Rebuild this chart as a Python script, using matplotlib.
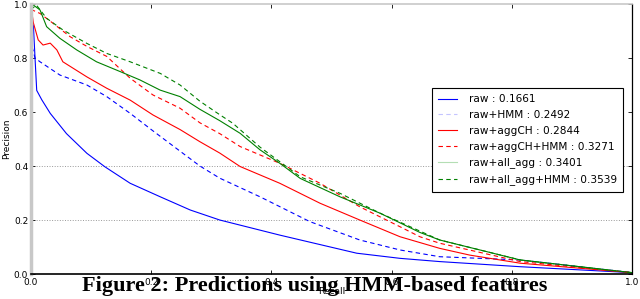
import matplotlib
matplotlib.use('Agg')
import matplotlib.pyplot as plt

# precision / recall points
raw_r = [0, 0.004, 0.0067, 0.0095, 0.018, 0.032, 0.059, 0.093, 0.123, 0.165, 0.215, 0.265, 0.314, 0.414, 0.542, 0.614, 0.68, 0.814, 1.0]
raw_p = [0.95, 0.92, 0.80, 0.68, 0.645, 0.595, 0.52, 0.447, 0.397, 0.336, 0.286, 0.237, 0.20, 0.144, 0.077, 0.058, 0.046, 0.027, 0.005]

hmm_r = [0, 0.002, 0.0067, 0.015, 0.048, 0.093, 0.126, 0.165, 0.203, 0.248, 0.281, 0.314, 0.381, 0.464, 0.547, 0.614, 0.68, 0.814, 1.0]
hmm_p = [0.58, 0.84, 0.80, 0.786, 0.737, 0.70, 0.657, 0.595, 0.53, 0.455, 0.40, 0.355, 0.286, 0.194, 0.126, 0.089, 0.064, 0.052, 0.005]

aggch_r = [0, 0.004, 0.012, 0.02, 0.032, 0.043, 0.053, 0.093, 0.126, 0.165, 0.203, 0.248, 0.281, 0.314, 0.348, 0.414, 0.481, 0.547, 0.614, 0.68, 0.73, 0.814, 1.0]
aggch_p = [0.99, 0.93, 0.867, 0.848, 0.855, 0.83, 0.786, 0.73, 0.688, 0.644, 0.589, 0.535, 0.49, 0.448, 0.398, 0.336, 0.262, 0.20, 0.138, 0.095, 0.07, 0.04, 0.005]

aggch_hmm_r = [0, 0.015, 0.037, 0.065, 0.093, 0.126, 0.165, 0.203, 0.248, 0.281, 0.314, 0.348, 0.414, 0.481, 0.547, 0.614, 0.647, 0.68, 0.814, 1.0]
aggch_hmm_p = [0.98, 0.965, 0.928, 0.879, 0.843, 0.806, 0.725, 0.663, 0.614, 0.56, 0.52, 0.472, 0.41, 0.336, 0.249, 0.175, 0.138, 0.114, 0.046, 0.005]

all_r = [0, 0.004, 0.015, 0.026, 0.048, 0.076, 0.109, 0.148, 0.181, 0.215, 0.248, 0.281, 0.314, 0.348, 0.381, 0.414, 0.448, 0.514, 0.581, 0.647, 0.68, 0.814, 1.0]
all_p = [1.0, 0.996, 0.978, 0.916, 0.873, 0.83, 0.786, 0.75, 0.719, 0.681, 0.657, 0.61, 0.568, 0.521, 0.46, 0.41, 0.354, 0.286, 0.225, 0.154, 0.126, 0.052, 0.005]

all_hmm_r = [0, 0.009, 0.026, 0.053, 0.093, 0.126, 0.165, 0.215, 0.248, 0.281, 0.314, 0.336, 0.381, 0.448, 0.514, 0.581, 0.68, 0.814, 1.0]
all_hmm_p = [0.98, 0.996, 0.947, 0.904, 0.854, 0.817, 0.786, 0.743, 0.70, 0.64, 0.59, 0.558, 0.47, 0.36, 0.299, 0.225, 0.126, 0.052, 0.005]

LABELS = ['raw : 0.1661', 'raw+HMM : 0.2492', 'raw+aggCH : 0.2844',
          'raw+aggCH+HMM : 0.3271', 'raw+all_agg : 0.3401', 'raw+all_agg+HMM : 0.3539']
SERIES = [(raw_r, raw_p), (hmm_r, hmm_p), (aggch_r, aggch_p),
          (aggch_hmm_r, aggch_hmm_p), (all_r, all_p), (all_hmm_r, all_hmm_p)]
COLORS = ['blue', 'blue', 'red', 'red', 'green', 'green']
STYLES = ['-', '--', '-', '--', '-', '--']
# legend handles look washed out in the original
LEG_COLORS = ['blue', '#c4c4ff', 'red', 'red', '#b4deb4', 'green']

fig = plt.figure(figsize=(6.4, 2.99), dpi=100)
ax = fig.add_axes([31/640, 25/299, 601/640, 270/299])

for (r, p), c, ls, lab in zip(SERIES, COLORS, STYLES, LABELS):
    line, = ax.plot(r, p, ls, c=c, lw=0.8, label=lab)
    if ls == '--':
        line.set_dashes((4, 3))

for y in [0.2, 0.4]:
    ax.axhline(y, color='#999999', lw=0.7, ls=':', zorder=0)

ax.set_xlim(0, 1)
ax.set_ylim(0, 1)
ax.set_xticks([0, 0.2, 0.4, 0.6, 0.8, 1.0])
ax.set_yticks([0, 0.2, 0.4, 0.6, 0.8, 1.0])
ax.tick_params(direction='in', length=3, width=0.6, labelsize=6.5, pad=2,
               top=True, right=True)
ax.tick_params(axis='x', pad=3)

ax.spines['left'].set_color('#c8c8c8')
ax.spines['left'].set_linewidth(2.5)
ax.spines['top'].set_color('#c8c8c8')
ax.spines['top'].set_linewidth(1.2)
ax.spines['bottom'].set_linewidth(1.2)
ax.spines['right'].set_linewidth(0.9)

ax.set_xlabel('Recall', fontsize=6.5, labelpad=0)
ax.set_ylabel('Precision', fontsize=6.5, labelpad=2)

leg = ax.legend(loc='upper left', bbox_to_anchor=(401/601, 1 - 84/270),
                borderaxespad=0, fontsize=7.6, fancybox=False,
                edgecolor='black', framealpha=1, handlelength=1.8,
                labelspacing=0.55, borderpad=0.6, handletextpad=1.1)
leg.get_frame().set_linewidth(0.8)
for h, c in zip(leg.get_lines(), LEG_COLORS):
    h.set_color(c)

fig.text(315/640, 1 - 286/299, 'Figure 2: Predictions using HMM-based features',
         family='Liberation Serif', weight='bold', fontsize=16,
         ha='center', va='center', zorder=10)

fig.savefig('out.png', dpi=100)
